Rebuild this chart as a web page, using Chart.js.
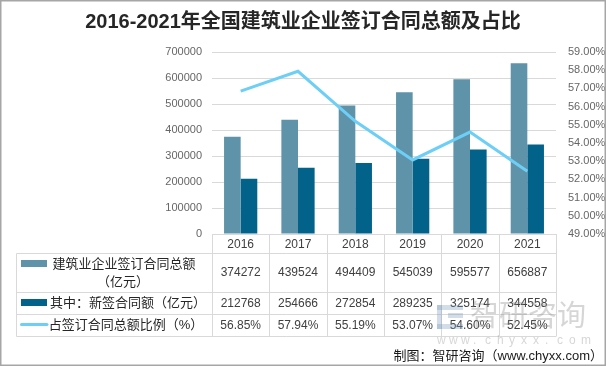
<!DOCTYPE html>
<html>
<head>
<meta charset="utf-8">
<script src="https://cdn.jsdelivr.net/npm/chart.js@4.4.0/dist/chart.umd.min.js"></script>
<style>
  html, body { margin: 0; padding: 0; background: #fff; }
  canvas { display: block; }
</style>
</head>
<body>
<canvas id="myChart" width="606" height="366"></canvas>
<script>
// 数据
var years = ['2016', '2017', '2018', '2019', '2020', '2021'];
var totalContract = [374272, 439524, 494409, 545039, 595577, 656887];
var newContract = [212768, 254666, 272854, 289235, 325174, 344558];
var ratio = [56.85, 57.94, 55.19, 53.07, 54.60, 52.45];

var seriesNames = ['建筑业企业签订合同总额（亿元）', '其中：新签合同额（亿元）', '占签订合同总额比例（%）'];
var title = '2016-2021年全国建筑业企业签订合同总额及占比';
var source = '制图：智研咨询（www.chyxx.com）';

var colLight = '#5f93aa';
var colDark = '#03628a';
var colLine = '#6dcff6';
var gridCol = '#d9d9d9';
var cjk = "'Liberation Sans', 'Noto Sans CJK SC', sans-serif";

Chart.defaults.font.family = cjk;

// 表格 + 标题 + 水印
var tablePlugin = {
  id: 'tablePlugin',
  afterDraw: function (chart) {
    var ctx = chart.ctx;
    var area = chart.chartArea;
    var n = years.length;
    var colW = (area.right - area.left) / n;
    var rows = [area.bottom, 253.5, 292.5, 314.5, 336.5];
    var tableLeft = 16.5;

    ctx.save();
    // 表格线
    ctx.strokeStyle = gridCol;
    ctx.lineWidth = 1;
    ctx.beginPath();
    ctx.moveTo(area.left, Math.round(area.bottom) + 0.5);
    ctx.lineTo(area.right, Math.round(area.bottom) + 0.5);
    for (var r = 1; r < rows.length; r++) {
      ctx.moveTo(tableLeft, rows[r]);
      ctx.lineTo(area.right, rows[r]);
    }
    for (var i = 0; i <= n; i++) {
      var x = Math.round(area.left + i * colW) + 0.5;
      ctx.moveTo(x, area.bottom);
      ctx.lineTo(x, rows[4]);
    }
    ctx.moveTo(tableLeft, rows[1]);
    ctx.lineTo(tableLeft, rows[4]);
    ctx.stroke();

    // 数值
    ctx.fillStyle = '#404040';
    ctx.font = '12px ' + cjk;
    ctx.textAlign = 'center';
    ctx.textBaseline = 'middle';
    for (var j = 0; j < n; j++) {
      var cx = area.left + (j + 0.5) * colW;
      ctx.fillText(String(totalContract[j]), cx, (rows[1] + rows[2]) / 2);
      ctx.fillText(String(newContract[j]), cx, (rows[2] + rows[3]) / 2);
      ctx.fillText(ratio[j].toFixed(2) + '%', cx, (rows[3] + rows[4]) / 2);
    }

    // 图例
    ctx.fillStyle = colLight;
    ctx.fillRect(21, 260, 26, 7);
    ctx.fillStyle = colDark;
    ctx.fillRect(21, 299, 26, 7);
    ctx.strokeStyle = colLine;
    ctx.lineWidth = 3;
    ctx.lineCap = 'round';
    ctx.beginPath();
    ctx.moveTo(21.5, 324.5);
    ctx.lineTo(47, 324.5);
    ctx.stroke();

    ctx.fillStyle = '#262626';
    ctx.font = '13px ' + cjk;
    ctx.textAlign = 'center';
    ctx.fillText('建筑业企业签订合同总额', 124, 264);
    ctx.fillText('（亿元）', 123, 282);
    ctx.fillText('其中：新签合同额（亿元）', 128, 303);
    ctx.fillText('占签订合同总额比例（%）', 126, 325);

    // 水印
    ctx.globalAlpha = 0.35;
    ctx.fillStyle = '#8a8a8a';
    ctx.font = '29px ' + cjk;
    ctx.textAlign = 'left';
    ctx.fillText('智研咨询', 470, 318);
    ctx.fillStyle = '#7f9fc0';
    ctx.fillRect(437, 305, 26, 5);
    ctx.fillRect(437, 305, 5, 24);
    ctx.fillRect(437, 324, 26, 5);
    ctx.fillRect(448, 313, 15, 5);
    ctx.fillStyle = '#8a8a8a';
    ctx.font = '12px ' + cjk;
    var wm = 'www.chyxx.com';
    for (var k = 0; k < wm.length; k++) {
      ctx.fillText(wm[k], 437 + k * 12, 341);
    }
    ctx.globalAlpha = 1;

    // 来源
    ctx.fillStyle = '#1a1a1a';
    ctx.font = '13px ' + cjk;
    ctx.textAlign = 'right';
    ctx.fillText(source, 603, 356);

    // 标题
    ctx.fillStyle = '#262626';
    ctx.font = 'bold 20px ' + cjk;
    ctx.textAlign = 'center';
    ctx.fillText(title, 303, 22);

    // 外框
    ctx.strokeStyle = '#a6a6a6';
    ctx.lineWidth = 1.5;
    ctx.strokeRect(0.75, 0.75, 604.5, 364.5);
    ctx.restore();
  }
};

var ctx = document.getElementById('myChart').getContext('2d');
var chart = new Chart(ctx, {
  type: 'bar',
  data: {
    labels: years,
    datasets: [{
      type: 'line',
      label: seriesNames[2],
      data: ratio,
      yAxisID: 'y1',
      borderColor: colLine,
      backgroundColor: colLine,
      borderWidth: 3,
      pointRadius: 0,
      tension: 0,
      order: 0
    }, {
      label: seriesNames[0],
      data: totalContract,
      yAxisID: 'y',
      backgroundColor: colLight,
      categoryPercentage: 0.58,
      barPercentage: 1,
      order: 1
    }, {
      label: seriesNames[1],
      data: newContract,
      yAxisID: 'y',
      backgroundColor: colDark,
      categoryPercentage: 0.58,
      barPercentage: 1,
      order: 1
    }]
  },
  options: {
    responsive: false,
    animation: false,
    layout: { padding: { top: 52, left: 0, right: 0, bottom: 0 } },
    plugins: {
      legend: { display: false },
      tooltip: { enabled: false }
    },
    scales: {
      x: {
        grid: { display: false, drawTicks: false },
        border: { display: false },
        ticks: { color: '#404040', font: { size: 12 }, padding: 3 },
        afterFit: function (scale) { scale.height = 132; }
      },
      y: {
        position: 'left',
        min: 0,
        max: 700000,
        grid: { color: gridCol, drawTicks: false },
        border: { display: false },
        ticks: {
          stepSize: 100000,
          color: '#666',
          font: { size: 11 },
          padding: 10,
          callback: function (v) { return String(v); }
        },
        afterFit: function (scale) { scale.width = 212; }
      },
      y1: {
        position: 'right',
        min: 49,
        max: 59,
        grid: { display: false, drawTicks: false },
        border: { display: false },
        ticks: {
          stepSize: 1,
          color: '#666',
          font: { size: 11 },
          padding: 12,
          callback: function (v) { return v.toFixed(2) + '%'; }
        },
        afterFit: function (scale) { scale.width = 50; }
      }
    }
  },
  plugins: [tablePlugin]
});
</script>
</body>
</html>
